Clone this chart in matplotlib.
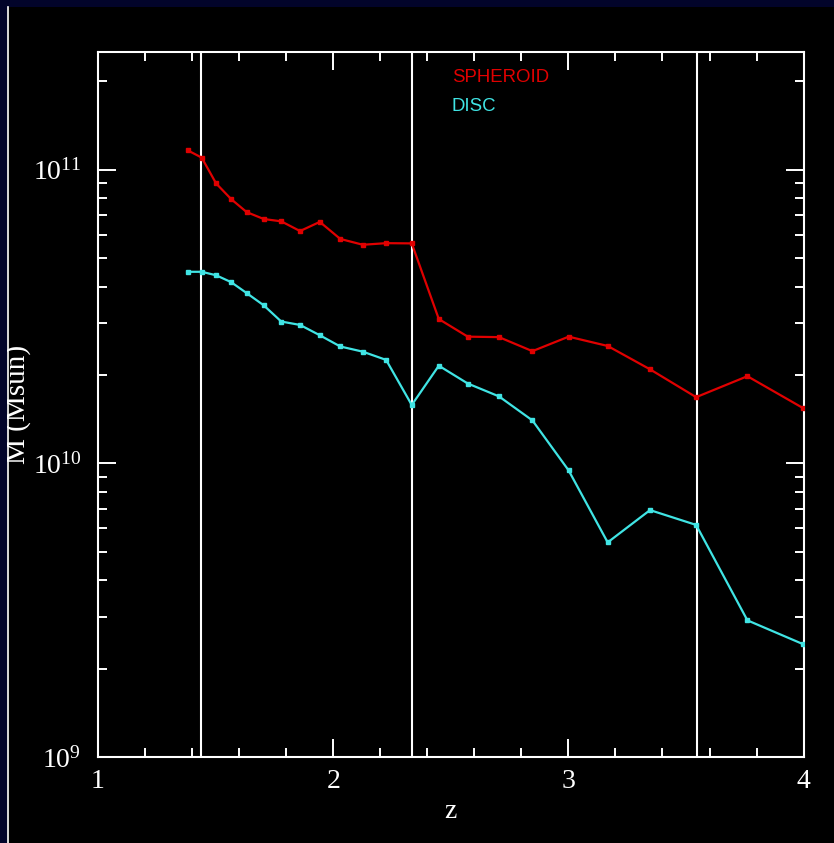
import matplotlib
matplotlib.use("Agg")
import matplotlib.pyplot as plt
from matplotlib.patches import Rectangle
from matplotlib.lines import Line2D
from matplotlib.ticker import LogLocator, MultipleLocator, FixedLocator, FormatStrFormatter

plt.rcParams['font.family'] = ['Liberation Serif', 'DejaVu Serif']
plt.rcParams['mathtext.fontset'] = 'stix'

# Data
z = [1.381, 1.441, 1.502, 1.566, 1.632, 1.705, 1.779, 1.859, 1.943, 2.030,
     2.126, 2.225, 2.334, 2.449, 2.572, 2.705, 2.847, 3.001, 3.167, 3.347,
     3.543, 3.761, 3.999]
spheroid = [1.164e11, 1.099e11, 8.98e10, 7.94e10, 7.17e10, 6.79e10, 6.67e10,
            6.18e10, 6.64e10, 5.81e10, 5.55e10, 5.62e10, 5.61e10, 3.10e10,
            2.70e10, 2.69e10, 2.41e10, 2.70e10, 2.51e10, 2.09e10, 1.68e10,
            1.98e10, 1.54e10]
disc = [4.49e10, 4.49e10, 4.37e10, 4.14e10, 3.80e10, 3.45e10, 3.04e10,
        2.96e10, 2.73e10, 2.50e10, 2.40e10, 2.25e10, 1.58e10, 2.15e10,
        1.87e10, 1.69e10, 1.40e10, 9.46e9, 5.38e9, 6.93e9, 6.17e9,
        2.92e9, 2.42e9]
vlines_z = [1.44, 2.334, 3.546]
series_labels = ["SPHEROID", "DISC"]
x_ticklabels = ["1", "2", "3", "4"]

RED = '#e00000'
CYAN = '#40e4e4'
NAVY = '#02042a'

W, H = 834, 843
fig = plt.figure(figsize=(W / 100, H / 100), dpi=100, facecolor='black')

# frame decorations
fig.patches.append(Rectangle((0, 1 - 7 / H), 1, 7 / H, transform=fig.transFigure,
                             facecolor=NAVY, edgecolor='none', zorder=0))
fig.patches.append(Rectangle((0, 0), 7 / W, 1, transform=fig.transFigure,
                             facecolor=NAVY, edgecolor='none', zorder=0))
fig.lines.append(Line2D([7.5 / W, 7.5 / W], [0, 1 - 7 / H], transform=fig.transFigure,
                        color='white', lw=1.2, zorder=1))

ax = fig.add_axes([98 / W, (H - 757) / H, (803.6 - 98) / W, (757 - 52.3) / H])
ax.set_facecolor('black')

for zv in vlines_z:
    ax.axvline(zv, color='white', lw=1.5, zorder=1)

ax.plot(z, spheroid, color=RED, lw=1.6, marker='s', ms=3.5, mec=RED, mfc=RED, zorder=3)
ax.plot(z, disc, color=CYAN, lw=1.6, marker='s', ms=3.5, mec=CYAN, mfc=CYAN, zorder=3)

ax.set_yscale('log')
ax.set_xlim(1, 4)
ax.set_ylim(1e9, 2.51e11)

ax.xaxis.set_major_locator(FixedLocator([1, 2, 3, 4]))
ax.set_xticklabels(x_ticklabels)
ax.xaxis.set_minor_locator(MultipleLocator(0.2))
ax.yaxis.set_major_locator(LogLocator(base=10, numticks=10))
ax.yaxis.set_minor_locator(LogLocator(base=10, subs=range(2, 10), numticks=20))

for sp in ax.spines.values():
    sp.set_color('white')
    sp.set_linewidth(1.5)

ax.tick_params(which='both', direction='in', top=True, right=True, colors='white',
               width=1.4, labelsize=20)
ax.tick_params(which='major', length=13)
ax.tick_params(which='minor', length=6.5)
ax.tick_params(axis='x', which='major', pad=9)
ax.tick_params(axis='y', which='major', pad=12)
ax.tick_params(which='minor', labelleft=False, labelbottom=False)

ax.set_xlabel('z', color='white', fontsize=20, va='baseline')
ax.xaxis.set_label_coords(0.5, (757 - 818) / (757 - 52.3))
ax.set_ylabel('M (Msun)', color='white', fontsize=21)
ax.yaxis.set_label_coords((31 - 98) / (803.6 - 98), 0.5)

ax.text(0.5017, 0.9583, series_labels[0], transform=ax.transAxes, color=RED,
        fontsize=13.4, family='Liberation Sans', va='baseline', ha='left')
ax.text(0.5017, 0.916, series_labels[1], transform=ax.transAxes, color=CYAN,
        fontsize=13.4, family='Liberation Sans', va='baseline', ha='left')

fig.savefig('out.png', dpi=100, facecolor='black')
